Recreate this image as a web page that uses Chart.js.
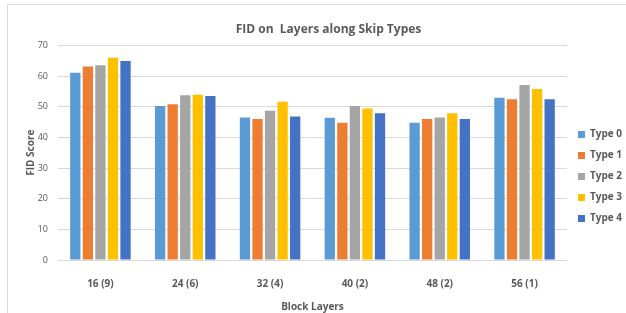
<!DOCTYPE html>
<html>
<head>
<meta charset="utf-8">
<script src="https://cdn.jsdelivr.net/npm/chart.js@4"></script>
<style>
  html, body { margin: 0; padding: 0; background: #fff; }
  #wrap { width: 626px; height: 313px; position: relative; }
</style>
</head>
<body>
<div id="wrap"><canvas id="fidChart" width="626" height="313"></canvas></div>
<script>
// Chart data
const categories = ["16 (9)", "24 (6)", "32 (4)", "40 (2)", "48 (2)", "56 (1)"];
const seriesNames = ["Type 0", "Type 1", "Type 2", "Type 3", "Type 4"];
const type0 = [61.1, 50.2, 46.5, 46.4, 44.8, 52.9];
const type1 = [63.1, 50.8, 46.0, 44.8, 46.0, 52.4];
const type2 = [63.5, 53.7, 48.7, 50.2, 46.5, 57.1];
const type3 = [66.0, 53.9, 51.6, 49.4, 47.9, 55.8];
const type4 = [64.9, 53.5, 46.8, 47.9, 46.0, 52.4];
const yTicks = [0, 10, 20, 30, 40, 50, 60, 70];

const colors = ["#5b9bd5", "#ed7d31", "#a5a5a5", "#ffc000", "#4472c4"];
const allSeries = [type0, type1, type2, type3, type4];

Chart.defaults.font.family = "'Open Sans', 'Noto Sans', sans-serif";
Chart.defaults.color = "#595959";

// light frame round the chart area, like the office export
const framePlugin = {
  id: "frame",
  beforeDraw(chart) {
    const ctx = chart.ctx;
    ctx.save();
    ctx.strokeStyle = "#d9d9d9";
    ctx.lineWidth = 1;
    ctx.beginPath();
    ctx.moveTo(7.5, 320);
    ctx.lineTo(7.5, 4.5);
    ctx.lineTo(640, 4.5);
    ctx.stroke();
    ctx.restore();
  },
};

const ctx = document.getElementById("fidChart").getContext("2d");
const fidChart = new Chart(ctx, {
  type: "bar",
  data: {
    labels: categories,
    datasets: allSeries.map((vals, i) => ({
      label: seriesNames[i],
      data: vals,
      backgroundColor: colors[i],
      categoryPercentage: 0.74,
      barPercentage: 0.82,
    })),
  },
  options: {
    responsive: false,
    animation: false,
    layout: { padding: { left: 25, right: -6, top: 18, bottom: 0 } },
    plugins: {
      title: {
        display: true,
        text: "FID on  Layers along Skip Types",
        font: { size: 12, weight: "bold" },
        color: "#595959",
        padding: { top: 4, bottom: 9 },
      },
      legend: {
        position: "right",
        // empty title only pushes the items down a bit
        title: { display: true, text: " ", font: { size: 10 }, padding: 5 },
        labels: {
          boxWidth: 7,
          boxHeight: 7,
          padding: 11,
          font: { size: 10, weight: "bold" },
          color: "#595959",
        },
      },
      tooltip: { enabled: false },
    },
    scales: {
      y: {
        min: 0,
        max: 70,
        afterBuildTicks: (axis) => {
          axis.ticks = yTicks.map((v) => ({ value: v }));
        },
        afterFit: (axis) => {
          axis.width = 33;
        },
        grid: { color: "#d9d9d9", drawTicks: false },
        border: { display: false },
        ticks: { padding: 10, font: { size: 9 }, color: "#595959" },
        title: {
          display: true,
          text: "FID Score",
          font: { size: 10, weight: "bold" },
          color: "#595959",
          padding: { top: 0, bottom: 0 },
        },
      },
      x: {
        afterFit: (axis) => {
          axis.height = 53;
        },
        grid: { display: false, drawTicks: false },
        border: { display: true, color: "#d9d9d9" },
        ticks: { padding: 18, font: { size: 10, weight: "bold" }, color: "#595959" },
        title: {
          display: true,
          text: "Block Layers",
          font: { size: 10, weight: "bold" },
          color: "#595959",
          padding: { top: 3, bottom: 0 },
        },
      },
    },
  },
  plugins: [framePlugin],
});
</script>
</body>
</html>
